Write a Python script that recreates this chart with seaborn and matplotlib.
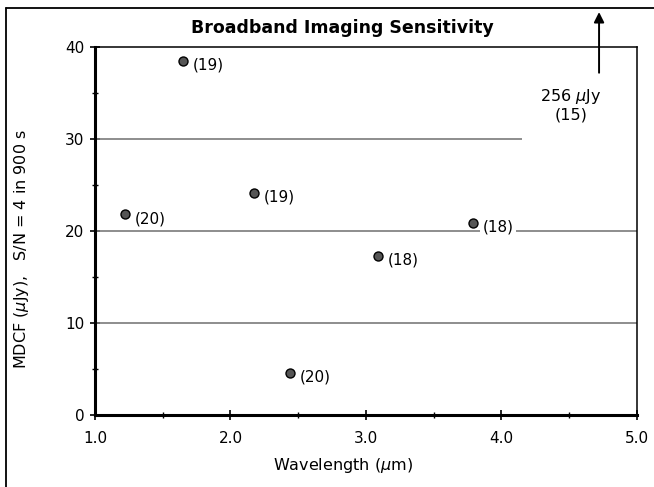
import numpy as np
import pandas as pd
import seaborn as sns
import matplotlib.pyplot as plt
from matplotlib.lines import Line2D
from matplotlib.ticker import MultipleLocator

# values
wavelength = [1.65, 1.22, 2.17, 2.44, 3.09, 3.79]
mdcf = [38.5, 21.8, 24.1, 4.6, 17.3, 20.9]
point_labels = ["(19)", "(20)", "(19)", "(20)", "(18)", "(18)"]
grid_levels = [10, 20, 30]
grid_ends = [5.0, 5.0, 4.15]

df = pd.DataFrame({"wavelength": wavelength, "mdcf": mdcf, "label": point_labels})

sns.set_style("white")
plt.rcParams["font.family"] = ["DejaVu Sans"]
plt.rcParams["text.color"] = "black"
plt.rcParams["axes.labelcolor"] = "black"
plt.rcParams["xtick.color"] = "black"
plt.rcParams["ytick.color"] = "black"

fig = plt.figure(figsize=(6.54, 4.87), dpi=100)
ax = fig.add_axes([95 / 654, 1 - 415 / 487, (637 - 95) / 654, (415 - 47) / 487])

# grid lines (the 30 line stops short of the off-scale note)
ax.hlines(grid_levels, 1.0, grid_ends, color="#7a7a7a", lw=1.2, zorder=1)

sns.scatterplot(data=df, x="wavelength", y="mdcf", ax=ax, s=42,
                color="#555555", edgecolor="black", linewidth=1, zorder=3, legend=False)

for _, r in df.iterrows():
    ax.annotate(r["label"], (r["wavelength"], r["mdcf"]), xytext=(7, -3),
                textcoords="offset points", fontsize=11, va="center", ha="left",
                bbox=dict(boxstyle="square,pad=0.15", fc="white", ec="none"), zorder=4)

# off-scale point
ax.annotate("", xy=(4.72, 44.1), xytext=(4.72, 36.9),
            arrowprops=dict(arrowstyle="-|>", color="black", lw=1.4, mutation_scale=15),
            annotation_clip=False, zorder=5)
ax.text(4.51, 33.7, "256 $\\mu$Jy\n(15)", ha="center", va="center", fontsize=11.5,
        linespacing=1.15, zorder=4)

ax.set_xlim(1.0, 5.0)
ax.set_ylim(0, 40)
ax.xaxis.set_major_locator(MultipleLocator(1.0))
ax.xaxis.set_minor_locator(MultipleLocator(0.5))
ax.yaxis.set_major_locator(MultipleLocator(10))
ax.yaxis.set_minor_locator(MultipleLocator(5))
ax.xaxis.set_major_formatter(plt.FuncFormatter(lambda v, p: f"{v:.1f}"))
ax.tick_params(which="major", direction="inout", length=7, width=1.2, labelsize=11, pad=4)
ax.tick_params(axis="x", which="major", pad=8)
ax.tick_params(which="minor", direction="inout", length=4, width=1)
ax.tick_params(axis="both", which="both", bottom=True, left=True)

for side in ["left", "bottom"]:
    ax.spines[side].set_linewidth(2.2)
for side in ["top", "right"]:
    ax.spines[side].set_linewidth(1.1)
for s in ax.spines.values():
    s.set_color("black")

ax.set_xlabel("Wavelength ($\\mu$m)", fontsize=11.5)
ax.xaxis.set_label_coords(0.457, -0.112)
ax.set_ylabel("MDCF ($\\mu$Jy),   S/N = 4 in 900 s", fontsize=11.5)
ax.yaxis.set_label_coords(-0.118, 0.451)
ax.set_title("Broadband Imaging Sensitivity", fontsize=12.5, fontweight="semibold",
             x=0.457, pad=10)

# outer frame
fig.add_artist(Line2D([6 / 654, 6 / 654], [0, 1 - 8 / 487], transform=fig.transFigure,
                      color="black", lw=1.3))
fig.add_artist(Line2D([6 / 654, 1], [1 - 8 / 487, 1 - 8 / 487], transform=fig.transFigure,
                      color="black", lw=1.3))

fig.savefig("out.png", dpi=100)
